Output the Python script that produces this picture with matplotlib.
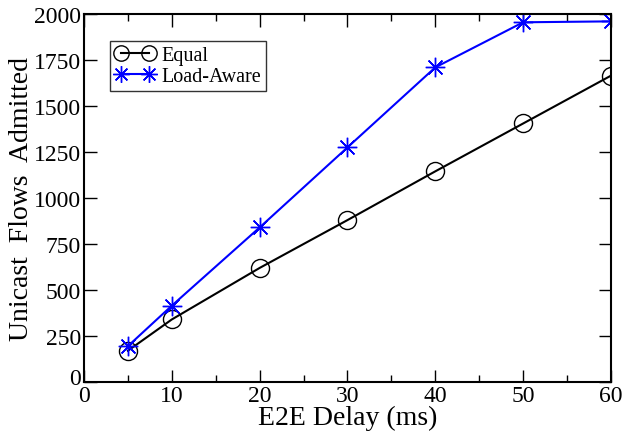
import matplotlib.pyplot as plt
import matplotlib.transforms as mtransforms
from matplotlib.ticker import MultipleLocator

# 數據
delay_ms = [5, 10, 20, 30, 40, 50, 60]
equal_flows = [170, 340, 620, 880, 1145, 1405, 1665]
load_aware_flows = [195, 415, 840, 1275, 1710, 1955, 1960]

plt.rcParams['font.family'] = ['Liberation Serif', 'DejaVu Serif']

fig = plt.figure(figsize=(6.24, 4.35), dpi=100)
ax = fig.add_axes([0.1346, 0.1195, 0.8445, 0.846])

ax.plot(delay_ms, equal_flows, color='black', linewidth=1.5, marker='o',
        markersize=13, markerfacecolor='none', markeredgecolor='black',
        markeredgewidth=1.0, label='Equal')
ax.plot(delay_ms, load_aware_flows, color='blue', linewidth=1.5, marker=(8, 2, 0),
        markersize=14, markeredgecolor='blue', markeredgewidth=1.0,
        label='Load-Aware')

ax.set_xlim(0, 60)
ax.set_ylim(0, 2000)
ax.xaxis.set_major_locator(MultipleLocator(10))
ax.xaxis.set_minor_locator(MultipleLocator(5))
ax.set_yticks(range(0, 2001, 250))

ax.tick_params(which='both', direction='in', top=True, right=True, labelsize=17)
ax.tick_params(which='major', length=9, width=1.0, pad=2)
ax.tick_params(which='minor', length=5, width=1.0)
for s in ax.spines.values():
    s.set_linewidth(1.5)

ax.set_xlabel('E2E Delay (ms)', fontsize=20, labelpad=-1)
ax.set_ylabel('Unicast  Flows  Admitted', fontsize=20, labelpad=0)

# y 軸的 0 稍微往上移，避免跟 x 軸的 0 擠在一起
fig.canvas.draw()
shift = mtransforms.ScaledTranslation(0, 4 / 72, fig.dpi_scale_trans)
for lbl in ax.get_yticklabels():
    if lbl.get_text() == '0':
        lbl.set_transform(lbl.get_transform() + shift)

leg = ax.legend(loc='upper left', bbox_to_anchor=(0.049, 0.928), fontsize=14.5,
                frameon=True, fancybox=False, edgecolor='black', handlelength=2.0,
                borderpad=0.25, labelspacing=0.1, handletextpad=0.3,
                borderaxespad=0, numpoints=2, markerscale=0.85)
leg.get_frame().set_linewidth(1.0)

fig.savefig('out.png', dpi=100)
